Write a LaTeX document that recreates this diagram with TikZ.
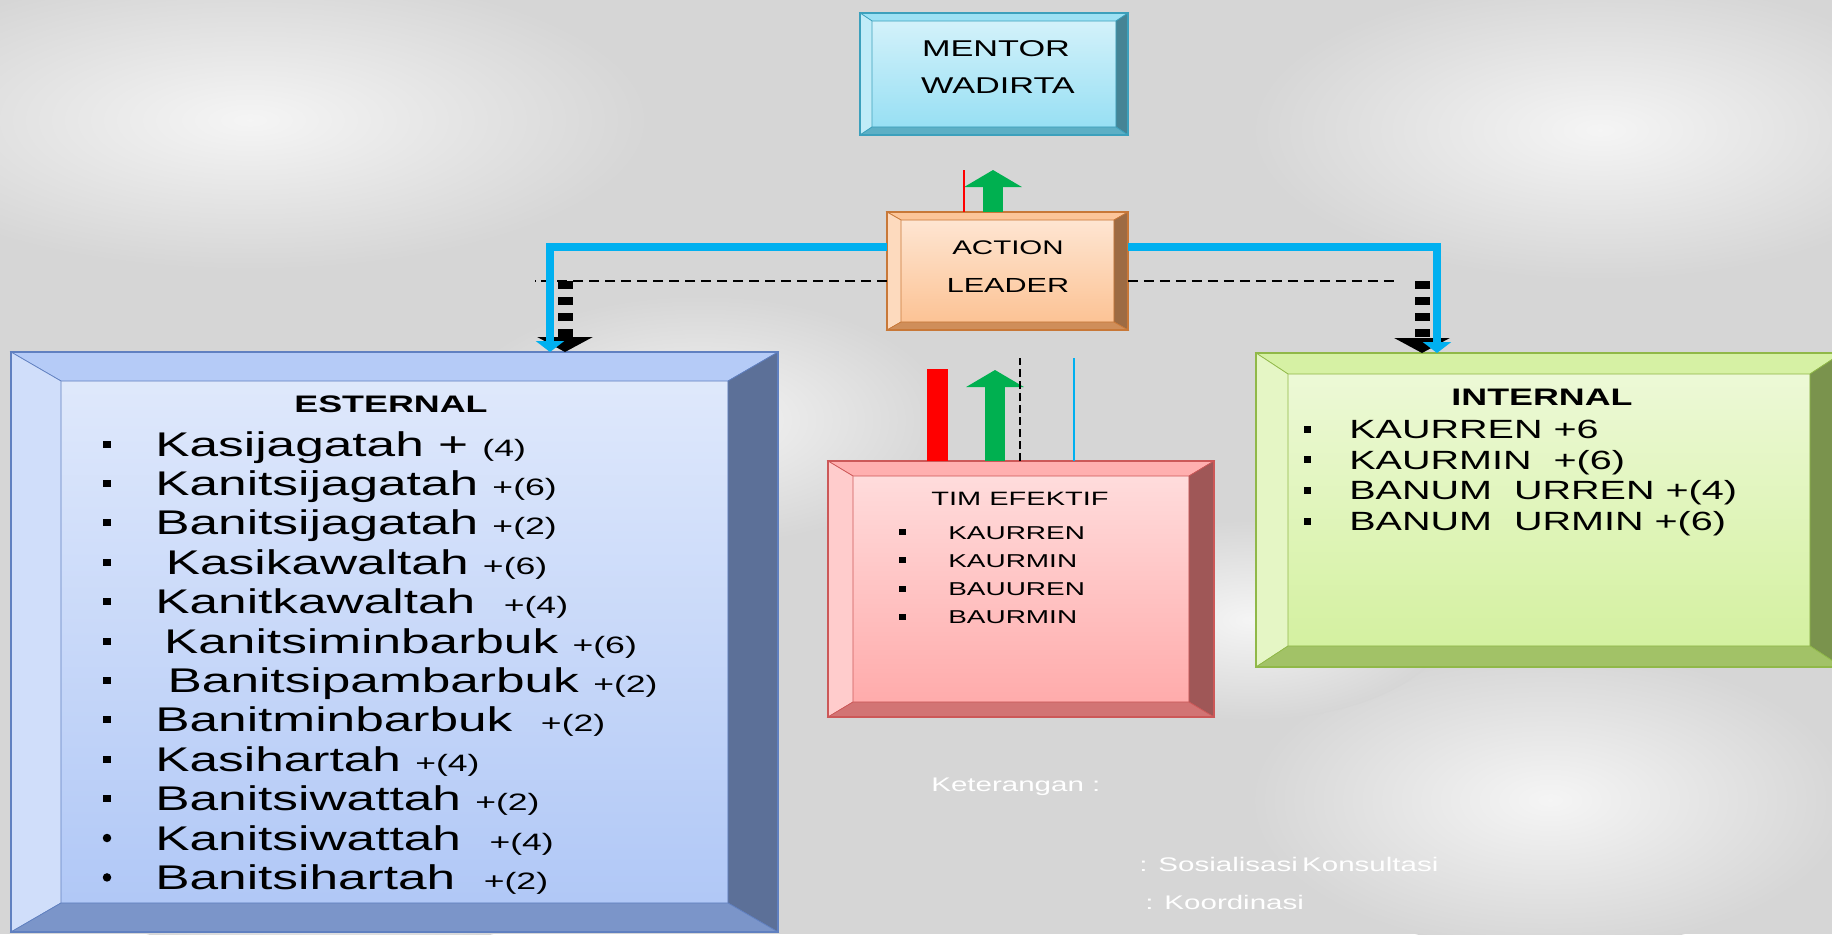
\documentclass[tikz,border=0pt]{standalone}
\usepackage{fontspec}
\setmainfont{Liberation Sans}
\newfontfamily\widesans{Liberation Sans}[FakeStretch=1.5]
\usetikzlibrary{arrows.meta, calc}

\definecolor{bggray}{RGB}{214,214,214}
\definecolor{estblue}{RGB}{120,160,240}
\definecolor{timred}{RGB}{255,110,110}
\definecolor{intgreen}{RGB}{180,230,90}
\definecolor{mentcyan}{RGB}{75,200,235}
\definecolor{actorange}{RGB}{250,150,70}
\definecolor{linkblue}{RGB}{0,176,240}
\definecolor{linkgreen}{RGB}{0,176,80}

\newcommand{\plusn}[1]{{\fontsize{13.5}{15}\selectfont #1}}
% bevel frame round a box node: node, colour, side width, top/bottom width
\newcommand{\bevelframe}[4]{%
  \filldraw[fill=#2!55!white, draw=#2!80!black, line width=0.4pt]
    (#1.north west) -- (#1.north east) -- ([shift={(-#3,#4)}]#1.north east) -- ([shift={(#3,#4)}]#1.north west) -- cycle;
  \filldraw[fill=#2!35!white, draw=#2!80!black, line width=0.4pt]
    (#1.north west) -- ([shift={(#3,#4)}]#1.north west) -- ([shift={(#3,-#4)}]#1.south west) -- (#1.south west) -- cycle;
  \filldraw[fill=#2!50!darkgray, draw=#2!80!black, line width=0.4pt]
    (#1.north east) -- ([shift={(-#3,#4)}]#1.north east) -- ([shift={(-#3,-#4)}]#1.south east) -- (#1.south east) -- cycle;
  \filldraw[fill=#2!65!gray, draw=#2!80!black, line width=0.4pt]
    (#1.south west) -- ([shift={(#3,-#4)}]#1.south west) -- ([shift={(-#3,-#4)}]#1.south east) -- (#1.south east) -- cycle;
  \draw[#2!80!black, line width=0.8pt] (#1.north west) rectangle (#1.south east);
}

\begin{document}
\begin{tikzpicture}[
    x=0.02cm, y=-0.02cm,
    bevelbox/.style={draw=#1!80!black, line width=0.8pt, top color=#1!22!white, bottom color=#1!60!white, inner sep=0pt, outer sep=0pt},
    boxtext/.style={font=\widesans\fontsize{#1}{#1}\selectfont, inner sep=0pt},
    boxtitle/.style={font=\widesans\bfseries\fontsize{13.6}{16}\selectfont, inner sep=0pt},
    estitem/.style={font=\widesans\fontsize{19.5}{22}\selectfont, anchor=base west, inner sep=0pt},
    intitem/.style={font=\widesans\fontsize{15}{17}\selectfont, anchor=base west, inner sep=0pt},
    timitem/.style={font=\widesans\fontsize{10.6}{12}\selectfont, anchor=base west, inner sep=0pt},
    note/.style={font=\widesans\fontsize{11.2}{13}\selectfont, text=white, anchor=base west, inner sep=0pt},
    bluelink/.style={draw=linkblue, line width=0.16cm, -{Triangle[width=0.56cm, length=0.22cm]}},
    dashlink/.style={draw=black, line width=0.04cm, dash pattern=on 0.2cm off 0.12cm},
    dasharrow/.style={draw=black, line width=0.3cm, dash pattern=on 0.16cm off 0.16cm, -{Triangle[width=1.1cm, length=0.3cm]}},
    greenarrow/.style={draw=linkgreen, line width=0.4cm, -{Triangle[width=1.14cm, length=0.34cm]}},
    redbar/.style={draw=red, line width=#1}
]

% Background
\clip (0,0) rectangle (1832,934);
\fill[bggray] (0,0) rectangle (1832,934);
\foreach \cx/\cy/\rx/\ry in {250/120/8/3, 1600/130/7/3, 700/420/5/2.5, 1550/800/6/3, 320/880/5/1.5, 1250/620/4/2}
  \shade[inner color=white!75!bggray, outer color=bggray] (\cx,\cy) ellipse [x radius=\rx cm, y radius=\ry cm];

% Boxes
\node[bevelbox=mentcyan, minimum width=5.36cm, minimum height=2.44cm] (mentor) at (994,74) {};
\node[bevelbox=actorange, minimum width=4.82cm, minimum height=2.36cm] (action) at (1007.5,271) {};
\node[bevelbox=estblue, minimum width=15.34cm, minimum height=11.6cm] (esternal) at (394.5,642) {};
\node[bevelbox=timred, minimum width=7.72cm, minimum height=5.12cm] (tim) at (1021,589) {};
\node[bevelbox=intgreen, minimum width=11.72cm, minimum height=6.28cm] (internal) at (1549,510) {};

\bevelframe{mentor}{mentcyan}{12}{8}
\bevelframe{action}{actorange}{14}{8}
\bevelframe{esternal}{estblue}{50}{29}
\bevelframe{tim}{timred}{25}{15}
\bevelframe{internal}{intgreen}{32}{21}

% Box texts
\node[boxtext=13] (mentor-1) at (996,48.5) {MENTOR};
\node[boxtext=13] (mentor-2) at (998,86) {WADIRTA};
\node[boxtext=11.2] (action-1) at (1008,247.5) {ACTION};
\node[boxtext=11.6] (action-2) at (1008,285.5) {LEADER};

\node[boxtitle] (est-title) at (391,404) {ESTERNAL};
\foreach \txt [count=\i] in {
    {Kasijagatah + \plusn{(4)}},
    {Kanitsijagatah \plusn{+(6)}},
    {Banitsijagatah \plusn{+(2)}},
    {\hspace*{6pt}Kasikawaltah \plusn{+(6)}},
    {Kanitkawaltah \ \plusn{+(4)}},
    {\hspace*{5pt}Kanitsiminbarbuk \plusn{+(6)}},
    {\hspace*{7pt}Banitsipambarbuk \plusn{+(2)}},
    {Banitminbarbuk \ \plusn{+(2)}},
    {Kasihartah \plusn{+(4)}},
    {Banitsiwattah \plusn{+(2)}},
    {Kanitsiwattah \ \plusn{+(4)}},
    {Banitsihartah \ \plusn{+(2)}}}
  \node[estitem] (est-\i) at (155,{456+39.4*(\i-1)}) {\txt};
\foreach \i in {1,...,10}
  \fill (107,{444+39.4*(\i-1)}) ++(-4,-3.5) rectangle ++(8,7);
\foreach \i in {11,12}
  \fill (107,{444+39.4*(\i-1)}) circle [radius=0.085cm];

\node[boxtitle] (int-title) at (1542,397) {INTERNAL};
\foreach \txt [count=\i] in {
    {KAURREN +6},
    {KAURMIN \ +(6)},
    {BANUM \ URREN +(4)},
    {BANUM \ URMIN +(6)}}
  \node[intitem] (int-\i) at (1349,{438.5+30.7*(\i-1)}) {\txt};
\foreach \i in {1,...,4}
  \fill (1307,{429+30.7*(\i-1)}) ++(-3.5,-3.5) rectangle ++(7,7);

\node[boxtext=11] (tim-title) at (1020,499) {TIM EFEKTIF};
\foreach \txt [count=\i] in {KAURREN, KAURMIN, BAUUREN, BAURMIN}
  \node[timitem] (tim-\i) at (948,{539+28.3*(\i-1)}) {\txt};
\foreach \i in {1,...,4}
  \fill (902,{532+28.3*(\i-1)}) ++(-3.5,-3) rectangle ++(7,6);

% Legend
\node[note] (ket) at (931,791) {Keterangan :};
\node[note] (ket-sos) at (1139,871) {: Sosialisasi};
\node[note, anchor=base west] (ket-kon) at ([xshift=2pt]ket-sos.base east) {Konsultasi};
\node[note] (ket-koor) at (1145,909) {: Koordinasi};

% Edges
\coordinate (ment-up) at (993,170);
\coordinate (ment-red) at (964,170);
\draw[greenarrow] (ment-up |- action.north) -- (ment-up);
\draw[redbar=0.04cm] (ment-red |- action.north) -- (ment-red);

\coordinate (est-dash) at (535,281);
\coordinate (int-dash) at (1398,281);
\coordinate (est-blue) at (550,352);
\coordinate (est-black) at (565,352);
\coordinate (int-blue) at (1437,353);
\coordinate (int-black) at (1422,353);

\draw[dashlink] ([shift={(0,10)}]action.west) -- (est-dash);
\draw[dashlink] ([shift={(0,10)}]action.east) -- (int-dash);
\draw[dasharrow] (est-black |- est-dash) -- (est-black);
\draw[dasharrow] (int-black |- int-dash) -- (int-black);
\draw[bluelink] ([shift={(0,-24)}]action.west) -| (est-blue);
\draw[bluelink] ([shift={(0,-24)}]action.east) -| (int-blue);

\coordinate (tim-red) at (937.5,369);
\coordinate (tim-up) at (995,370);
\coordinate (tim-dash) at (1020,358);
\coordinate (tim-blue) at (1074,358);
\draw[redbar=0.42cm] (tim-red |- tim.north) -- (tim-red);
\draw[greenarrow] (tim-up |- tim.north) -- (tim-up);
\draw[dashlink, dash pattern=on 0.16cm off 0.08cm] (tim-dash |- tim.north) -- (tim-dash);
\draw[linkblue, line width=0.04cm] (tim-blue |- tim.north) -- (tim-blue);

\end{tikzpicture}
\end{document}
